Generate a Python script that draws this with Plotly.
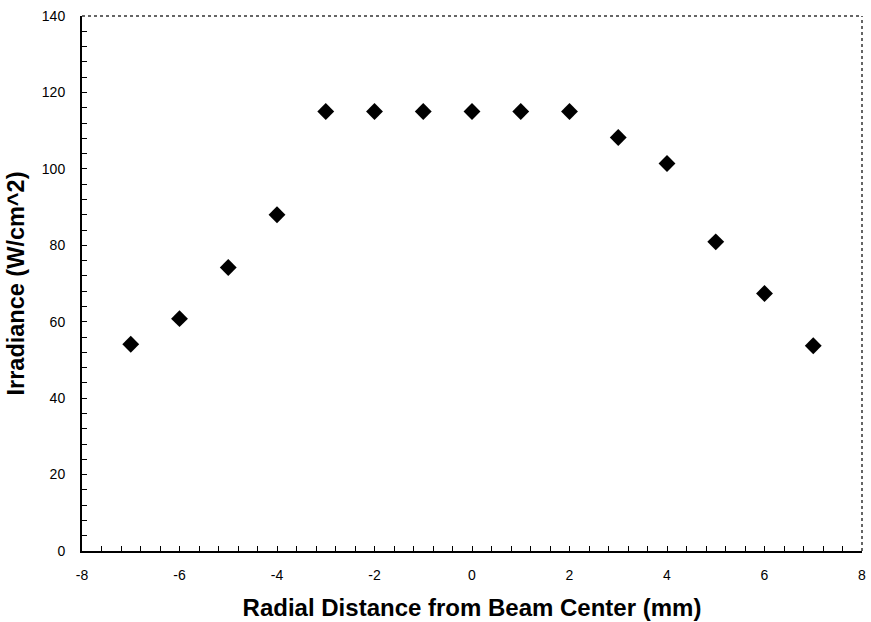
import plotly.graph_objects as go

# Radial irradiance profile of the beam
radial_mm = [-7, -6, -5, -4, -3, -2, -1, 0, 1, 2, 3, 4, 5, 6, 7]
irradiance = [54.1, 60.8, 74.2, 88.0, 115.0, 115.0, 115.0, 115.0, 115.0,
              115.0, 108.2, 101.4, 80.9, 67.4, 53.7]

x_ticks = [-8, -6, -4, -2, 0, 2, 4, 6, 8]
y_ticks = [0, 20, 40, 60, 80, 100, 120, 140]

fig = go.Figure()
fig.add_trace(go.Scatter(
    x=radial_mm, y=irradiance, mode="markers",
    marker=dict(symbol="diamond", size=13, color="black",
                line=dict(width=0)),
    showlegend=False,
))

tick_font = dict(family="Liberation Sans, Arial, sans-serif", size=14, color="black")
x_title_font = dict(family="Liberation Sans, Arial, sans-serif", size=24, color="black")
y_title_font = dict(family="Liberation Sans, Arial, sans-serif", size=23.5, color="black")

fig.update_xaxes(
    range=[-8, 8], tickvals=x_ticks, ticktext=[str(v) for v in x_ticks],
    showgrid=False, zeroline=False,
    showline=True, linecolor="black", linewidth=2,
    ticks="inside", ticklen=5, tickwidth=1, tickcolor="black",
    minor=dict(ticks="inside", ticklen=5, tickwidth=1, tickcolor="black", dtick=0.4, showgrid=False),
    tickfont=tick_font, ticklabelstandoff=10,
    title=dict(text="<b>Radial Distance from Beam Center (mm)</b>", font=x_title_font, standoff=17),
)
fig.update_yaxes(
    range=[0, 140], tickvals=y_ticks, ticktext=[str(v) for v in y_ticks],
    showgrid=False, zeroline=False,
    showline=True, linecolor="black", linewidth=2,
    ticks="inside", ticklen=5, tickwidth=1, tickcolor="black",
    minor=dict(ticks="inside", ticklen=5, tickwidth=1, tickcolor="black", dtick=4, showgrid=False),
    tickfont=tick_font, ticklabelstandoff=12,
    title=dict(text="<b>Irradiance (W/cm^2)</b>", font=y_title_font, standoff=11),
)

# Thin dotted top and right frame edges
fig.add_shape(type="line", xref="paper", yref="paper", x0=0, x1=1, y0=1, y1=1,
              line=dict(color="#333333", width=1.5, dash="dot"))
fig.add_shape(type="line", xref="paper", yref="paper", x0=1, x1=1, y0=0, y1=1,
              line=dict(color="#333333", width=1.5, dash="dot"))

fig.update_layout(
    width=871, height=622,
    margin=dict(l=82, r=5, t=16, b=71),
    paper_bgcolor="white", plot_bgcolor="white",
)

fig.write_html("out.html")
